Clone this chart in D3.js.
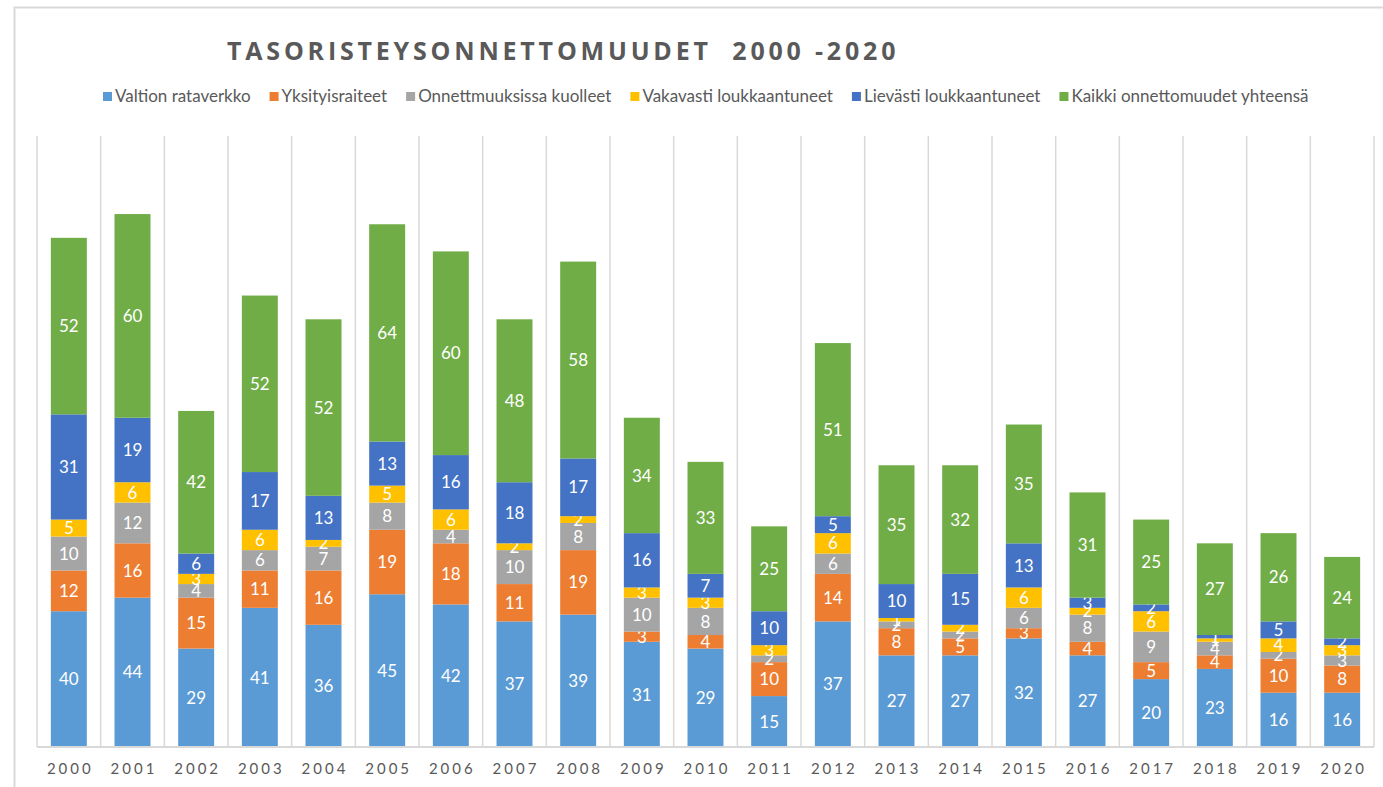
<!DOCTYPE html>
<html>
<head>
<meta charset="utf-8">
<script src="https://cdn.jsdelivr.net/npm/d3@7"></script>
<style>
  body{ margin:0; background:#fff; }
  svg text{ font-family: Lato, "Open Sans", sans-serif; }
</style>
</head>
<body>
<div id="chart"></div>
<script>
// data
var years = ["2000","2001","2002","2003","2004","2005","2006","2007","2008","2009","2010",
             "2011","2012","2013","2014","2015","2016","2017","2018","2019","2020"];
var seriesNames = ["Valtion rataverkko","Yksityisraiteet","Onnettmuuksissa kuolleet",
                   "Vakavasti loukkaantuneet","Lievästi loukkaantuneet","Kaikki onnettomuudet yhteensä"];
var valtion   = [40,44,29,41,36,45,42,37,39,31,29,15,37,27,27,32,27,20,23,16,16];
var yksityis  = [12,16,15,11,16,19,18,11,19, 3, 4,10,14, 8, 5, 3, 4, 5, 4,10, 8];
var kuolleet  = [10,12, 4, 6, 7, 8, 4,10, 8,10, 8, 2, 6, 2, 2, 6, 8, 9, 4, 2, 3];
var vakavasti = [ 5, 6, 3, 6, 2, 5, 6, 2, 2, 3, 3, 3, 6, 1, 2, 6, 2, 6, 1, 4, 3];
var lievasti  = [31,19, 6,17,13,13,16,18,17,16, 7,10, 5,10,15,13, 3, 2, 1, 5, 2];
var kaikki    = [52,60,42,52,52,64,60,48,58,34,33,25,51,35,32,35,31,25,27,26,24];
var colors = ["#5b9bd5","#ed7d31","#a5a5a5","#ffc000","#4472c4","#70ad47"];
var yMax = 180;

var W = 1383, H = 787;
var plot = {left: 37, right: 1374, top: 136, bottom: 747};

// rows for the stack
var rows = years.map(function(y, i){
	return {year: y, s0: valtion[i], s1: yksityis[i], s2: kuolleet[i],
	        s3: vakavasti[i], s4: lievasti[i], s5: kaikki[i]};
});
var keys = ["s0","s1","s2","s3","s4","s5"];
var stacked = d3.stack().keys(keys)(rows);

var svg = d3.select("#chart").append("svg")
	.attr("width", W)
	.attr("height", H);

svg.append("rect").attr("width", W).attr("height", H).attr("fill", "#fff");

// chart area border (runs off the picture at right/bottom)
svg.append("rect")
	.attr("x", 14.5).attr("y", 7.5)
	.attr("width", W + 20).attr("height", H + 20)
	.attr("fill", "none")
	.attr("stroke", "#d9d9d9")
	.attr("stroke-width", 2);

var xScale = d3.scaleBand()
	.domain(years)
	.range([plot.left, plot.right])
	.padding(0);
var yScale = d3.scaleLinear()
	.domain([0, yMax])
	.range([plot.bottom, plot.top]);
var barW = xScale.bandwidth() * 0.565;

// vertical grid at category boundaries
var bounds = years.map(function(y){ return xScale(y); }).concat([plot.right]);
svg.append("g").selectAll("line")
	.data(bounds)
	.enter().append("line")
	.attr("x1", function(d){ return d; })
	.attr("x2", function(d){ return d; })
	.attr("y1", plot.top)
	.attr("y2", plot.bottom)
	.attr("stroke", "#d9d9d9")
	.attr("stroke-width", 1.5);

// bars
var layers = svg.append("g").selectAll("g")
	.data(stacked)
	.enter().append("g")
	.attr("fill", function(d, i){ return colors[i]; });

layers.selectAll("rect")
	.data(function(d){ return d; })
	.enter().append("rect")
	.attr("x", function(d){ return xScale(d.data.year) + (xScale.bandwidth() - barW)/2; })
	.attr("width", barW)
	.attr("y", function(d){ return yScale(d[1]); })
	.attr("height", function(d){ return yScale(d[0]) - yScale(d[1]); });

// value labels
layers.selectAll("text")
	.data(function(d){ return d; })
	.enter().append("text")
	.attr("x", function(d){ return xScale(d.data.year) + xScale.bandwidth()/2; })
	.attr("y", function(d){ return (yScale(d[0]) + yScale(d[1]))/2; })
	.attr("dy", "0.36em")
	.attr("text-anchor", "middle")
	.attr("fill", "#fff")
	.style("font-size", "17px")
	.text(function(d){ return d[1] - d[0]; });

// x axis line
svg.append("line")
	.attr("x1", plot.left).attr("x2", plot.right)
	.attr("y1", plot.bottom).attr("y2", plot.bottom)
	.attr("stroke", "#d9d9d9")
	.attr("stroke-width", 2);

// year labels
svg.append("g").selectAll("text")
	.data(years)
	.enter().append("text")
	.attr("x", function(d){ return xScale(d) + xScale.bandwidth()/2 + 1.5; })
	.attr("y", 774)
	.attr("text-anchor", "middle")
	.attr("fill", "#595959")
	.style("font-size", "15px")
	.style("letter-spacing", "3px")
	.text(function(d){ return d; });

// title
svg.append("text")
	.attr("x", 227)
	.attr("y", 60)
	.attr("fill", "#595959")
	.attr("xml:space", "preserve")
	.style("white-space", "pre")
	.style("font-family", "'Open Sans', sans-serif")
	.style("font-weight", "bold")
	.style("font-size", "25px")
	.style("letter-spacing", "3.8px")
	.text("TASORISTEYSONNETTOMUUDET  2000 -2020");

// legend
var legend = svg.append("g");
var lx = 103;
seriesNames.forEach(function(name, i){
	legend.append("rect")
		.attr("x", lx).attr("y", 92)
		.attr("width", 9).attr("height", 9)
		.attr("fill", colors[i]);
	var t = legend.append("text")
		.attr("x", lx + 12)
		.attr("y", 102)
		.attr("fill", "#595959")
		.style("font-size", "17px")
		.text(name);
	lx += 12 + t.node().getComputedTextLength() + 19;
});
</script>
</body>
</html>
